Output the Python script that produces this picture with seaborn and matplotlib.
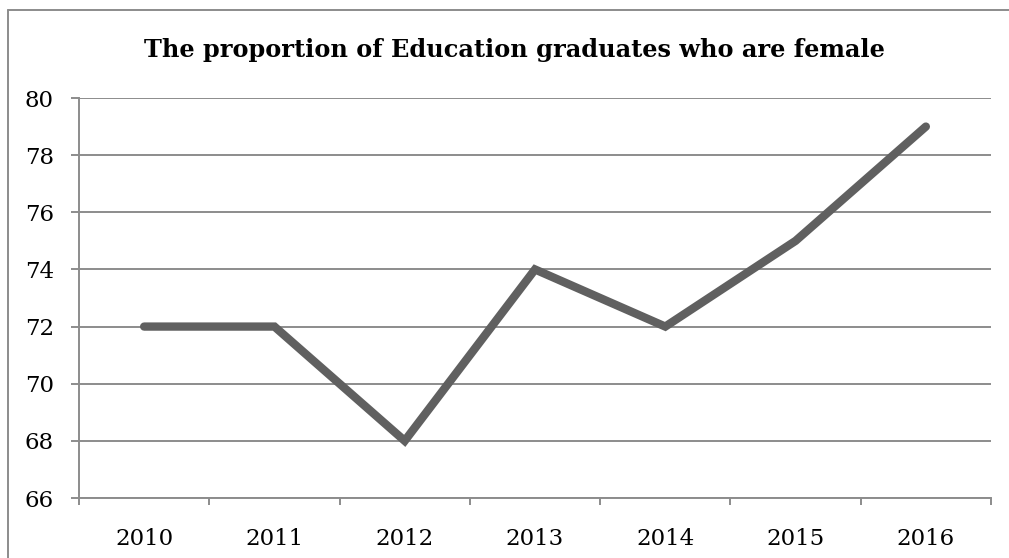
import matplotlib
matplotlib.use("Agg")
import matplotlib.pyplot as plt
import pandas as pd
import seaborn as sns

years = ["2010", "2011", "2012", "2013", "2014", "2015", "2016"]
female_share = [72, 72, 68, 74, 72, 75, 79]
y_ticks = [66, 68, 70, 72, 74, 76, 78, 80]

sns.set_style("white")
plt.rcParams["font.family"] = ["DejaVu Serif"]
plt.rcParams["text.color"] = "black"
plt.rcParams["xtick.labelcolor"] = "black"
plt.rcParams["ytick.labelcolor"] = "black"

df = pd.DataFrame({"pos": range(len(years)), "year": years, "value": female_share})

W, H = 1009, 558
fig = plt.figure(figsize=(W / 100, H / 100), dpi=100)
ax = fig.add_axes([79 / W, (H - 498) / H, (991 - 79) / W, (498 - 98) / H])

grid_col = "#8c8c8c"
for y in y_ticks:
    ax.axhline(y, color=grid_col, lw=1.4, zorder=1)

sns.lineplot(data=df, x="pos", y="value", ax=ax, color="#606060", lw=6,
             solid_capstyle="round", solid_joinstyle="miter", zorder=3)

ax.set_xlim(-0.5, len(years) - 0.5)
ax.set_ylim(66, 80)
ax.set_yticks(y_ticks)
ax.set_yticklabels([str(v) for v in y_ticks])
ax.set_xticks(range(len(years)))
ax.set_xticklabels(years)
ax.set_xticks([i - 0.5 for i in range(len(years) + 1)], minor=True)
ax.set_xlabel("")
ax.set_ylabel("")

for side in ["top", "right"]:
    ax.spines[side].set_visible(False)
for side in ["left", "bottom"]:
    ax.spines[side].set_color(grid_col)
    ax.spines[side].set_linewidth(1.4)

ax.tick_params(axis="y", which="major", left=True, length=6, width=1.4,
               color=grid_col, labelsize=16.5, pad=12, labelcolor="black")
ax.tick_params(axis="x", which="major", bottom=False, labelsize=16.5, pad=18,
               labelcolor="black")
ax.tick_params(axis="x", which="minor", bottom=True, length=5, width=1.4,
               color=grid_col)

fig.text(514 / W, 1 - 50 / H, "The proportion of Education graduates who are female",
         ha="center", va="center", fontsize=17.3, fontweight="bold", color="black")

# outer chart frame (cropped on the right and bottom)
fig.add_artist(plt.Line2D([8 / W, 8 / W], [0, 1 - 10 / H], transform=fig.transFigure,
                          color=grid_col, lw=1.4))
fig.add_artist(plt.Line2D([8 / W, 1], [1 - 10 / H, 1 - 10 / H], transform=fig.transFigure,
                          color=grid_col, lw=1.4))

fig.savefig("out.png", dpi=100)
